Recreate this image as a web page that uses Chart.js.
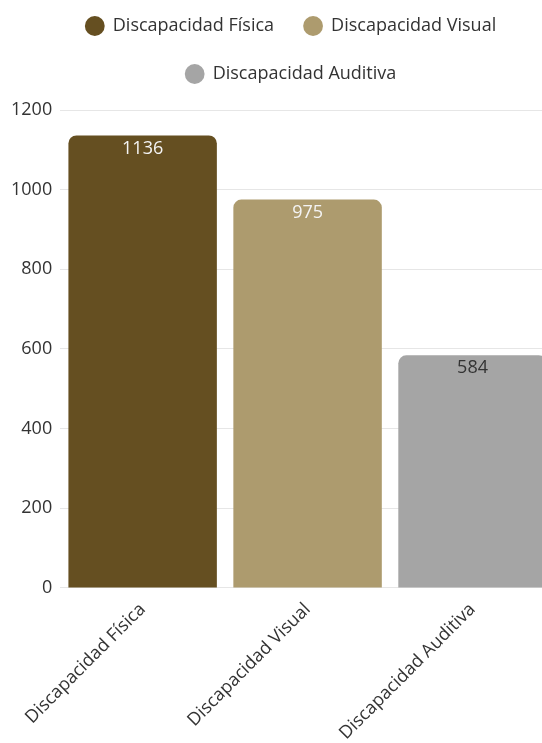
<!DOCTYPE html>
<html lang="es">
<head>
<meta charset="UTF-8">
<title>Discapacidad</title>
<style>
  html, body { margin: 0; padding: 0; background: #fff; }
  #wrap { width: 542px; height: 743px; overflow: hidden; position: relative; }
  #wrap canvas { position: absolute; left: 0; top: -15px; }
</style>
</head>
<body>
<div id="wrap">
  <canvas id="chart" width="582" height="762"></canvas>
</div>
<script src="https://cdn.jsdelivr.net/npm/chart.js@4.4.0/dist/chart.umd.min.js"></script>
<script>
// data
const categories = ['Discapacidad Física', 'Discapacidad Visual', 'Discapacidad Auditiva'];
const values = [1136, 975, 584];
const yTicks = [0, 200, 400, 600, 800, 1000, 1200];

// styling
const barColors = ['#654f21', '#ad9b6e', '#a5a5a5'];
const labelColors = ['#f4f4f4', '#f4f4f4', '#333333'];

Chart.defaults.font.family = "'Open Sans', sans-serif";
Chart.defaults.font.size = 18;
Chart.defaults.color = '#333';

// one dataset per category so each gets its own legend entry
const datasets = categories.map((name, i) => ({
  label: name,
  data: categories.map((c, j) => (j === i ? values[i] : null)),
  backgroundColor: barColors[i],
  borderRadius: 8,
  borderSkipped: 'start',
  skipNull: true,
  barPercentage: 0.9,
  categoryPercentage: 1
}));

// values written just inside the top of each bar
const barValues = {
  id: 'barValues',
  afterDatasetsDraw(chart) {
    const ctx = chart.ctx;
    ctx.save();
    ctx.font = "18px 'Open Sans', sans-serif";
    ctx.textAlign = 'center';
    ctx.textBaseline = 'middle';
    chart.data.datasets.forEach((ds, i) => {
      chart.getDatasetMeta(i).data.forEach((bar, j) => {
        const v = ds.data[j];
        if (v == null) return;
        ctx.fillStyle = labelColors[i];
        ctx.fillText(String(v), bar.x, bar.y + 13);
      });
    });
    ctx.restore();
  }
};

// extra room under the legend, and nudge it right like the original
const legendTweak = {
  id: 'legendTweak',
  beforeInit(chart) {
    const legend = chart.legend;
    const fit = legend.fit;
    legend.fit = function () {
      fit.call(this);
      this.height += 19;
    };
    const draw = legend.draw;
    legend.draw = function () {
      const ctx = this.ctx;
      ctx.save();
      ctx.translate(12, 2);
      draw.call(this);
      ctx.restore();
    };
  }
};

new Chart(document.getElementById('chart'), {
  type: 'bar',
  data: { labels: categories, datasets: datasets },
  options: {
    responsive: false,
    animation: false,
    layout: { padding: { left: 3, right: 27, top: 0, bottom: 0 } },
    plugins: {
      legend: {
        position: 'top',
        labels: {
          usePointStyle: true,
          pointStyle: 'circle',
          boxWidth: 20,
          boxHeight: 14,
          padding: 30,
          color: '#333',
          font: { size: 18 }
        }
      },
      tooltip: { enabled: false }
    },
    scales: {
      x: {
        grid: { display: false },
        border: { display: false },
        ticks: { minRotation: 45, maxRotation: 45, color: '#333', font: { size: 18 } }
      },
      y: {
        min: 0,
        max: 1200,
        afterBuildTicks(axis) { axis.ticks = yTicks.map(v => ({ value: v })); },
        grid: { color: '#e6e6e6', drawTicks: false },
        border: { display: false },
        ticks: {
          padding: 8,
          color: '#333',
          font: { size: 18 },
          callback: v => String(v)
        }
      }
    }
  },
  plugins: [barValues, legendTweak]
});
</script>
</body>
</html>
